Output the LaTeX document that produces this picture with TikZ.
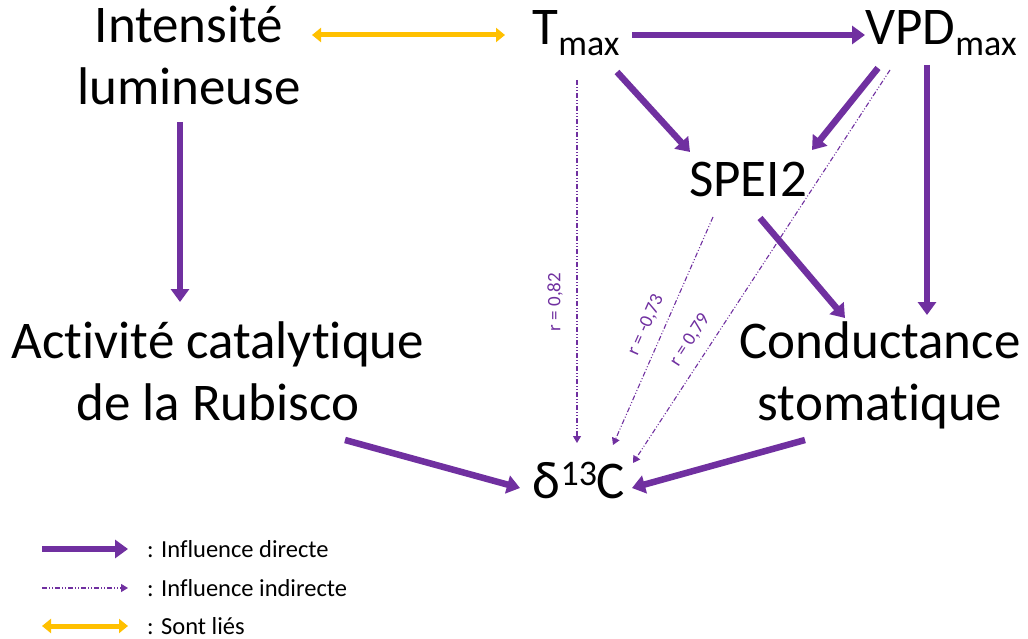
\documentclass[tikz,border=0pt]{standalone}
\usepackage{fontspec}
\setmainfont[Ligatures={NoCommon}]{Carlito}
\usetikzlibrary{arrows.meta,calc}
\definecolor{purp}{HTML}{7030A0}
\definecolor{gold}{HTML}{FFC000}
\newcommand{\bigtxt}{\fontsize{53}{62}\selectfont}
\newcommand{\subtxt}[1]{\raisebox{-11pt}{\fontsize{36}{36}\selectfont #1}}
\newcommand{\suptxt}[1]{\raisebox{13pt}{\fontsize{36}{36}\selectfont #1}}
\tikzset{
  lbl/.style={font=\bigtxt, inner sep=0pt, align=center, text=black, anchor=base},
  direct/.style={purp, line width=6.5pt, -{Triangle[length=13pt,width=18pt]}},
  indirect/.style={purp, line width=1.1pt, dash pattern=on 5pt off 2pt on 1pt off 2pt on 1pt off 2pt, -{Triangle[length=7pt,width=8pt]}},
  linked/.style={gold, line width=5pt, {Triangle[length=9pt,width=14pt]}-{Triangle[length=9pt,width=14pt]}},
  rlab/.style={purp, font=\fontsize{19}{21}\selectfont, inner sep=1pt},
  legtxt/.style={font=\fontsize{24.5}{27}\selectfont, anchor=west, inner sep=0pt}
}
\begin{document}
\begin{tikzpicture}[x=1pt,y=-1pt]
\useasboundingbox (0,0) rectangle (1028,639);
% nodes (anchor = baseline of last line)
\node[lbl] (int) at (189,105) {Intensité\\lumineuse};
\node[lbl] (tmax) at (576,45) {T\subtxt{max}};
\node[lbl] (vpd) at (941,45) {VPD\subtxt{max}};
\node[lbl] (spei) at (748,197) {SPEI2};
\node[lbl] (rub) at (218,420) {Activité catalytique\\de la Rubisco};
\node[lbl] (cond) at (880,420) {Conductance\\stomatique};
\node[lbl] (d13c) at (579,498) {δ\suptxt{13}C};
% direct influences
\draw[direct] ($(tmax.base)+(56,-10)$) -- ($(vpd.base)+(-76,-10)$);
\draw[direct] ($(tmax.base)+(41,27)$) -- ($(spei.base)+(-58,-45)$);
\draw[direct] ($(vpd.base)+(-63,23)$) -- ($(spei.base)+(64,-47)$);
\draw[direct] ($(vpd.base)+(-14,20)$) -- ($(cond.base)+(47,-105)$);
\draw[direct] ($(spei.base)+(12,21)$) -- ($(cond.base)+(-35,-102)$);
\draw[direct] ($(int.base)+(-9,17)$) -- ($(rub.base)+(-38,-118)$);
\draw[direct] ($(rub.base)+(127,20)$) -- ($(d13c.base)+(-59,-10)$);
\draw[direct] ($(cond.base)+(-75,20)$) -- ($(d13c.base)+(53,-10)$);
% linked
\draw[linked] ($(tmax.base)+(-264,-10)$) -- ($(tmax.base)+(-71,-10)$);
% indirect
\draw[indirect] ($(tmax.base)+(1,35)$) -- ($(d13c.base)+(-2,-55)$);
\draw[indirect] ($(spei.base)+(-35,20)$) -- ($(d13c.base)+(34,-53)$);
\draw[indirect] ($(vpd.base)+(-51,25)$) -- ($(d13c.base)+(54,-35)$);
\node[rlab, rotate=90] (r1) at (555,302) {r = 0,82};
\node[rlab, rotate=66] (r2) at (646,325) {r = -0,73};
\node[rlab, rotate=57] (r3) at (690,340) {r = 0,79};
% legend
\node[legtxt] (l1) at (147,549) {: Influence directe};
\node[legtxt] (l2) at (147,588) {: Influence indirecte};
\node[legtxt] (l3) at (147,626) {: Sont liés};
\draw[direct, line width=6pt] ($(l1.west)+(-105,0)$) -- ($(l1.west)+(-19,0)$);
\draw[indirect] ($(l2.west)+(-105,0)$) -- ($(l2.west)+(-19,0)$);
\draw[linked] ($(l3.west)+(-105,0)$) -- ($(l3.west)+(-19,0)$);
\end{tikzpicture}
\end{document}
